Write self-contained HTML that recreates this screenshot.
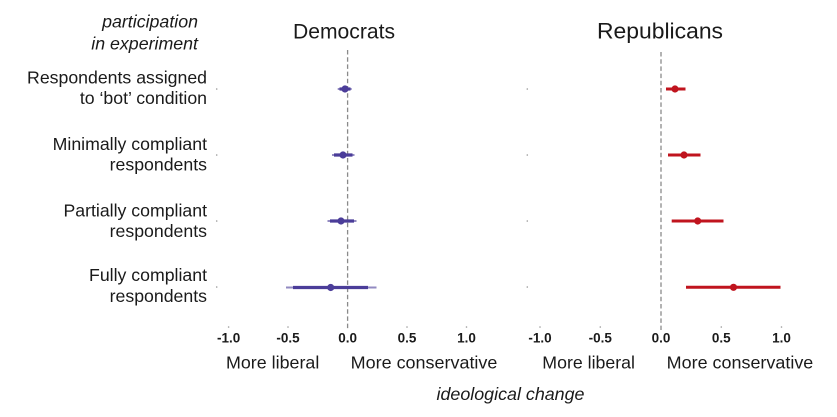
<!DOCTYPE html>
<html>
<head>
<meta charset="utf-8">
<style>
html,body{margin:0;padding:0;background:#fff;}
svg{display:block;}
text{font-family:"Liberation Sans",Arial,Helvetica,sans-serif;fill:#1a1a1a;}
</style>
</head>
<body>
<svg width="837" height="417" viewBox="0 0 837 417" xmlns="http://www.w3.org/2000/svg">
  <rect width="837" height="417" fill="#ffffff"/>

  <!-- header labels -->
  <text x="198" y="27.5" font-size="17.8" font-style="italic" text-anchor="end" fill="#222">participation</text>
  <text x="198" y="49.5" font-size="17.8" font-style="italic" text-anchor="end" fill="#222">in experiment</text>

  <text x="293" y="38.5" font-size="21.5" textLength="102" lengthAdjust="spacingAndGlyphs">Democrats</text>
  <text x="597" y="38.5" font-size="22.5" textLength="126" lengthAdjust="spacingAndGlyphs">Republicans</text>

  <!-- row labels -->
  <g font-size="17.7" text-anchor="end" fill="#1a1a1a">
    <text x="207" y="83.5">Respondents assigned</text>
    <text x="207" y="104">to ‘bot’ condition</text>
    <text x="207" y="150">Minimally compliant</text>
    <text x="207" y="170.5">respondents</text>
    <text x="207" y="216.5">Partially compliant</text>
    <text x="207" y="237">respondents</text>
    <text x="207" y="281">Fully compliant</text>
    <text x="207" y="302">respondents</text>
  </g>

  <!-- small row dots -->
  <g fill="#999">
    <circle cx="216.7" cy="89" r="0.8"/>
    <circle cx="216.7" cy="155" r="0.8"/>
    <circle cx="216.7" cy="221" r="0.8"/>
    <circle cx="216.7" cy="287" r="0.8"/>
    <circle cx="527.3" cy="89" r="0.8"/>
    <circle cx="527.3" cy="155" r="0.8"/>
    <circle cx="527.3" cy="221" r="0.8"/>
    <circle cx="527.3" cy="287" r="0.8"/>
  </g>

  <!-- zero lines -->
  <line x1="347.6" y1="50" x2="347.6" y2="330" stroke="#8a8a8a" stroke-width="1.3" stroke-dasharray="4.5,2.7"/>
  <line x1="661" y1="52" x2="661" y2="330" stroke="#8a8a8a" stroke-width="1.3" stroke-dasharray="4.5,2.7"/>

  <!-- Democrats series -->
  <g stroke="#4b3d99" stroke-linecap="butt">
    <line x1="337.7" y1="89" x2="351.7" y2="89" stroke-width="2" opacity="0.6"/>
    <line x1="339.5" y1="89" x2="350.5" y2="89" stroke-width="3.2"/>
    <line x1="332" y1="155" x2="354.5" y2="155" stroke-width="2" opacity="0.6"/>
    <line x1="334" y1="155" x2="352.5" y2="155" stroke-width="3.2"/>
    <line x1="327.5" y1="221" x2="356.5" y2="221" stroke-width="2" opacity="0.6"/>
    <line x1="330" y1="221" x2="354" y2="221" stroke-width="3.2"/>
    <line x1="286" y1="287.5" x2="376.5" y2="287.5" stroke-width="2" opacity="0.6"/>
    <line x1="293" y1="287.5" x2="368" y2="287.5" stroke-width="3.2"/>
  </g>
  <g fill="#4b3d99">
    <circle cx="345" cy="89" r="3.6"/>
    <circle cx="343" cy="155" r="3.6"/>
    <circle cx="341" cy="221" r="3.6"/>
    <circle cx="330.7" cy="287.5" r="3.6"/>
  </g>

  <!-- Republicans series -->
  <g stroke="#c0141e" stroke-linecap="butt">
    <line x1="666" y1="89" x2="685.5" y2="89" stroke-width="3"/>
    <line x1="668" y1="155" x2="700.5" y2="155" stroke-width="3"/>
    <line x1="671.7" y1="221" x2="723.5" y2="221" stroke-width="3"/>
    <line x1="686" y1="287.3" x2="780.5" y2="287.3" stroke-width="3"/>
  </g>
  <g fill="#c0141e">
    <circle cx="675" cy="89" r="3.6"/>
    <circle cx="684" cy="155" r="3.6"/>
    <circle cx="697.7" cy="221" r="3.6"/>
    <circle cx="733.5" cy="287.3" r="3.6"/>
  </g>

  <!-- tick dots -->
  <g fill="#999">
    <circle cx="228.6" cy="327" r="0.8"/>
    <circle cx="288" cy="327" r="0.8"/>
    <circle cx="407" cy="327" r="0.8"/>
    <circle cx="466.5" cy="327" r="0.8"/>
    <circle cx="540" cy="327" r="0.8"/>
    <circle cx="600.3" cy="327" r="0.8"/>
    <circle cx="721.3" cy="327" r="0.8"/>
    <circle cx="781.5" cy="327" r="0.8"/>
  </g>

  <!-- tick labels -->
  <g font-size="13.5" font-weight="bold" text-anchor="middle" fill="#222">
    <text x="228.6" y="342.5">-1.0</text>
    <text x="288" y="342.5">-0.5</text>
    <text x="347.6" y="342.5">0.0</text>
    <text x="407" y="342.5">0.5</text>
    <text x="466.5" y="342.5">1.0</text>
    <text x="540" y="342.5">-1.0</text>
    <text x="600.3" y="342.5">-0.5</text>
    <text x="661" y="342.5">0.0</text>
    <text x="721.3" y="342.5">0.5</text>
    <text x="781.5" y="342.5">1.0</text>
  </g>

  <!-- direction labels -->
  <g font-size="17.9" fill="#1a1a1a">
    <text x="226" y="368.5" textLength="93.3" lengthAdjust="spacingAndGlyphs">More liberal</text>
    <text x="350.7" y="368.5" textLength="146.7" lengthAdjust="spacingAndGlyphs">More conservative</text>
    <text x="542.3" y="368.5" textLength="92.7" lengthAdjust="spacingAndGlyphs">More liberal</text>
    <text x="666.7" y="368.5" textLength="146.6" lengthAdjust="spacingAndGlyphs">More conservative</text>
  </g>

  <text x="436.5" y="400" font-size="17.9" font-style="italic" fill="#222" textLength="148" lengthAdjust="spacingAndGlyphs">ideological change</text>
</svg>
</body>
</html>
